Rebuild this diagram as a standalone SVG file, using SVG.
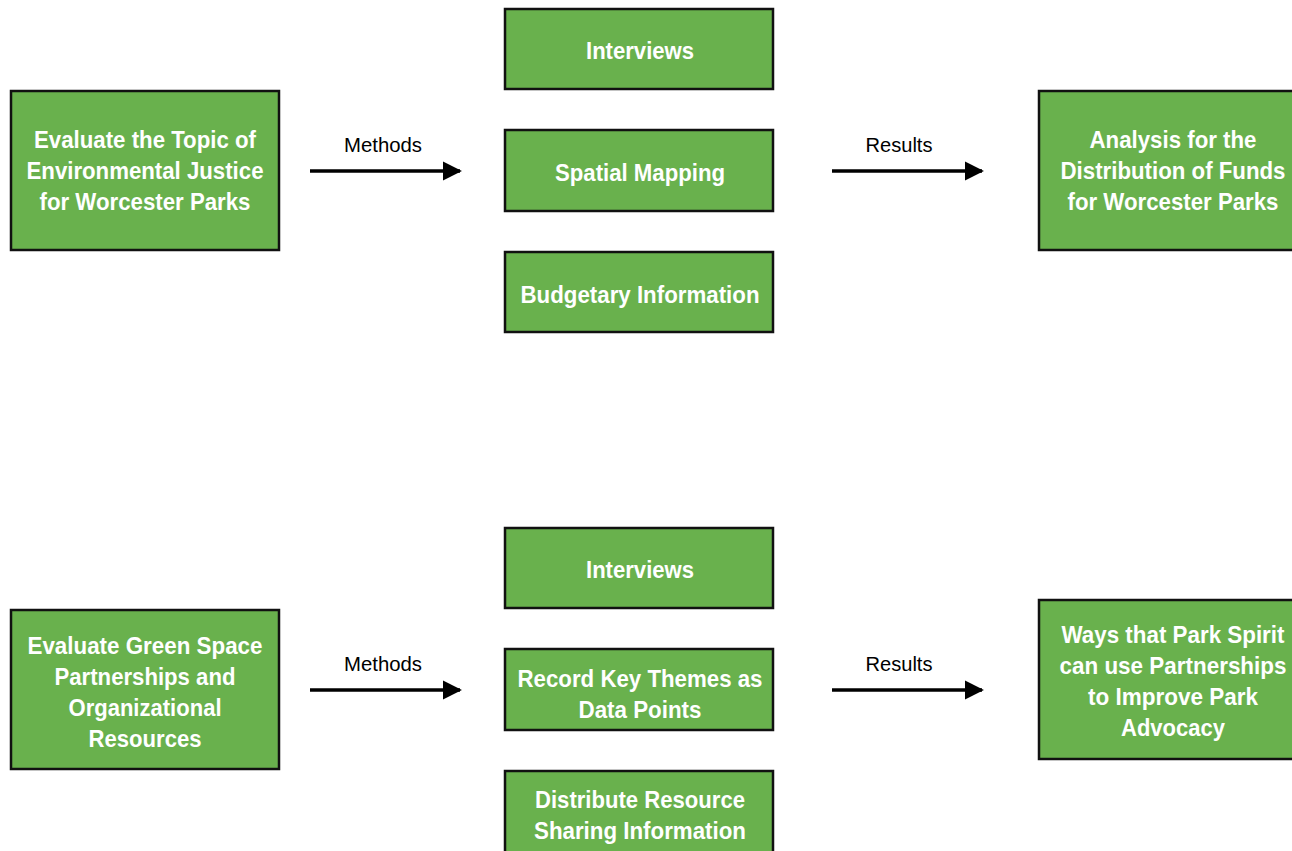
<svg xmlns="http://www.w3.org/2000/svg" width="1292" height="851" viewBox="0 0 1292 851">
<defs>
<style>
.box{fill:#69b14d;stroke:#111;stroke-width:2.5}
.t{font-family:"Liberation Sans",Arial,sans-serif;font-weight:bold;font-size:24px;fill:#fff;text-anchor:middle}
.lbl{font-family:"Liberation Sans",Arial,sans-serif;font-size:21px;fill:#000;text-anchor:middle}
.arr{stroke:#000;stroke-width:3.5;fill:none;marker-end:url(#ah)}
</style>
<marker id="ah" viewBox="0 0 10 10" refX="9" refY="5" markerWidth="5.5" markerHeight="5.5" orient="auto" markerUnits="strokeWidth">
<path d="M0,0 L10,5 L0,10 z" fill="#000"/>
</marker>
</defs>
<rect width="1292" height="851" fill="#fff"/>
<g id="connectors">
<line class="arr" x1="310" y1="171" x2="460" y2="171"/>
<text class="lbl" x="383" y="152" textLength="78" lengthAdjust="spacingAndGlyphs">Methods</text>
<line class="arr" x1="832" y1="171" x2="982" y2="171"/>
<text class="lbl" x="899" y="152" textLength="67" lengthAdjust="spacingAndGlyphs">Results</text>
<line class="arr" x1="310" y1="690" x2="460" y2="690"/>
<text class="lbl" x="383" y="671" textLength="78" lengthAdjust="spacingAndGlyphs">Methods</text>
<line class="arr" x1="832" y1="690" x2="982" y2="690"/>
<text class="lbl" x="899" y="671" textLength="67" lengthAdjust="spacingAndGlyphs">Results</text>
</g>
<g id="n-ej">
<rect class="box" x="11" y="91" width="268" height="159"/>
<text class="t" x="145" y="148" textLength="222" lengthAdjust="spacingAndGlyphs">Evaluate the Topic of</text>
<text class="t" x="145" y="179" textLength="237" lengthAdjust="spacingAndGlyphs">Environmental Justice</text>
<text class="t" x="145" y="210" textLength="211" lengthAdjust="spacingAndGlyphs">for Worcester Parks</text>
</g>
<g id="n-int1">
<rect class="box" x="505" y="9" width="268" height="80"/>
<text class="t" x="640" y="59" textLength="108" lengthAdjust="spacingAndGlyphs">Interviews</text>
</g>
<g id="n-spatial">
<rect class="box" x="505" y="130" width="268" height="81"/>
<text class="t" x="640" y="181" textLength="170" lengthAdjust="spacingAndGlyphs">Spatial Mapping</text>
</g>
<g id="n-budget">
<rect class="box" x="505" y="252" width="268" height="80"/>
<text class="t" x="640" y="303" textLength="239" lengthAdjust="spacingAndGlyphs">Budgetary Information</text>
</g>
<g id="n-funds">
<rect class="box" x="1039" y="91" width="268" height="159"/>
<text class="t" x="1173" y="148" textLength="167" lengthAdjust="spacingAndGlyphs">Analysis for the</text>
<text class="t" x="1173" y="179" textLength="225" lengthAdjust="spacingAndGlyphs">Distribution of Funds</text>
<text class="t" x="1173" y="210" textLength="211" lengthAdjust="spacingAndGlyphs">for Worcester Parks</text>
</g>
<g id="n-green">
<rect class="box" x="11" y="610" width="268" height="159"/>
<text class="t" x="145" y="654" textLength="235" lengthAdjust="spacingAndGlyphs">Evaluate Green Space</text>
<text class="t" x="145" y="685" textLength="181" lengthAdjust="spacingAndGlyphs">Partnerships and</text>
<text class="t" x="145" y="716" textLength="153" lengthAdjust="spacingAndGlyphs">Organizational</text>
<text class="t" x="145" y="747" textLength="113" lengthAdjust="spacingAndGlyphs">Resources</text>
</g>
<g id="n-int2">
<rect class="box" x="505" y="528" width="268" height="80"/>
<text class="t" x="640" y="578" textLength="108" lengthAdjust="spacingAndGlyphs">Interviews</text>
</g>
<g id="n-record">
<rect class="box" x="505" y="649" width="268" height="81"/>
<text class="t" x="640" y="687" textLength="245" lengthAdjust="spacingAndGlyphs">Record Key Themes as</text>
<text class="t" x="640" y="718" textLength="123" lengthAdjust="spacingAndGlyphs">Data Points</text>
</g>
<g id="n-distribute">
<rect class="box" x="505" y="771" width="268" height="82"/>
<text class="t" x="640" y="808" textLength="210" lengthAdjust="spacingAndGlyphs">Distribute Resource</text>
<text class="t" x="640" y="839" textLength="212" lengthAdjust="spacingAndGlyphs">Sharing Information</text>
</g>
<g id="n-ways">
<rect class="box" x="1039" y="600" width="268" height="159"/>
<text class="t" x="1173" y="643" textLength="223" lengthAdjust="spacingAndGlyphs">Ways that Park Spirit</text>
<text class="t" x="1173" y="674" textLength="227" lengthAdjust="spacingAndGlyphs">can use Partnerships</text>
<text class="t" x="1173" y="705" textLength="170" lengthAdjust="spacingAndGlyphs">to Improve Park</text>
<text class="t" x="1173" y="736" textLength="104" lengthAdjust="spacingAndGlyphs">Advocacy</text>
</g>
</svg>
